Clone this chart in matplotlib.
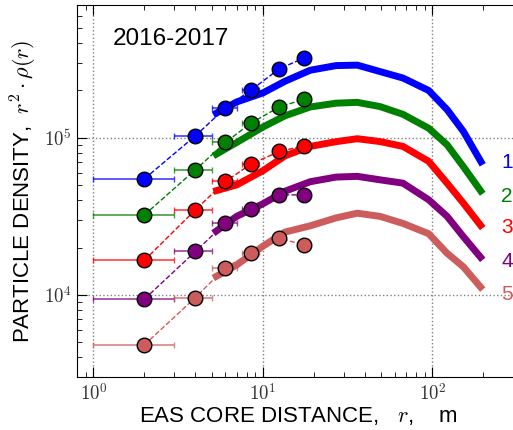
import numpy as np
import matplotlib
matplotlib.use("Agg")
from matplotlib import pyplot as plt
from matplotlib.ticker import FuncFormatter

plt.rcParams["font.family"] = ["Liberation Sans", "DejaVu Sans"]
plt.rcParams["mathtext.fontset"] = "cm"

# measured points (shower core distance, m)
r_points = [2, 4, 6, 8.5, 12.5, 17.5]
r_err = [1, 1, 1, 1, 1, 1]
pts_1 = [54800, 103000, 154600, 201000, 275000, 322000]
pts_2 = [32300, 62600, 93300, 124000, 157000, 176000]
pts_3 = [16600, 34800, 52700, 68000, 81800, 88900]
pts_4 = [9400, 18900, 28600, 35300, 43300, 43300]
pts_5 = [4810, 9620, 14900, 18400, 22900, 20800]

# thick curves
r_curve = [5.1, 7.0, 10, 13.5, 19, 27, 36, 49, 67, 95, 122, 152, 198]
curve_1 = [140000, 169000, 193000, 229000, 269000, 288000, 290000, 264000, 240000, 200000, 151000, 110000, 67300]
curve_2 = [76700, 93300, 117000, 138000, 157000, 166000, 168000, 158000, 141000, 115000, 90200, 65600, 44000]
curve_3 = [45500, 50100, 61700, 76700, 88100, 94400, 98600, 94600, 88100, 70800, 51400, 38400, 26600]
curve_4 = [24700, 31600, 38000, 45700, 52500, 56200, 56800, 54000, 51400, 40300, 31600, 23500, 16700]
curve_5 = [12800, 15500, 20400, 25100, 27500, 30900, 33100, 31600, 28500, 24500, 18400, 15100, 10800]

labels = ["1", "2", "3", "4", "5"]
label_y = [69300, 42000, 26700, 16200, 10000]
colors = ["blue", "green", "red", "purple", "indianred"]

fig = plt.figure(figsize=(5.13, 4.30), dpi=100)
ax = fig.add_axes([77 / 513, 53 / 430, 457.5 / 513, 372 / 430])

all_pts = [pts_1, pts_2, pts_3, pts_4, pts_5]
all_curves = [curve_1, curve_2, curve_3, curve_4, curve_5]
for pts, curve, col, lab, ly in zip(all_pts, all_curves, colors, labels, label_y):
    ax.plot(r_curve, curve, color=col, lw=5, solid_capstyle="butt", zorder=2)
    ax.plot(r_points, pts, color=col, lw=1, ls="--", zorder=3)
    ax.errorbar(r_points, pts, xerr=r_err, fmt="none", ecolor=col, elinewidth=1.2,
                capsize=2.5, alpha=0.75, zorder=3)
    ax.plot(r_points, pts, "o", color=col, markersize=10.5, markeredgecolor="black",
            markeredgewidth=1, zorder=4)
    ax.text(275, ly, lab, color=col, fontsize=15, ha="center", va="center")

ax.set_xscale("log")
ax.set_yscale("log")
ax.set_xlim(0.8, 400)
ax.set_ylim(3000, 7e5)

fmt = FuncFormatter(lambda v, p: r"$10^{%d}$" % round(np.log10(v)))
ax.xaxis.set_major_formatter(fmt)
ax.yaxis.set_major_formatter(fmt)
ax.tick_params(which="both", direction="in", top=True, right=True)
ax.tick_params(which="major", length=7, labelsize=13.5, labelcolor="#333333", pad=4)
ax.tick_params(which="minor", length=3.5)
ax.grid(True, which="major", ls=":", color="gray", lw=1)

ax.text(0.079, 0.8925, "2016-2017", transform=ax.transAxes, fontsize=17.5, va="baseline")

ax.set_xlabel("EAS CORE DISTANCE,   $r$,    m", fontsize=16)
ax.xaxis.set_label_coords(0.483, -0.075)
ax.set_ylabel(r"PARTICLE DENSITY,  $r^2\cdot\rho(r)$", fontsize=16)
ax.yaxis.set_label_coords(-0.082, 0.5)

fig.savefig("out.png", dpi=100)
